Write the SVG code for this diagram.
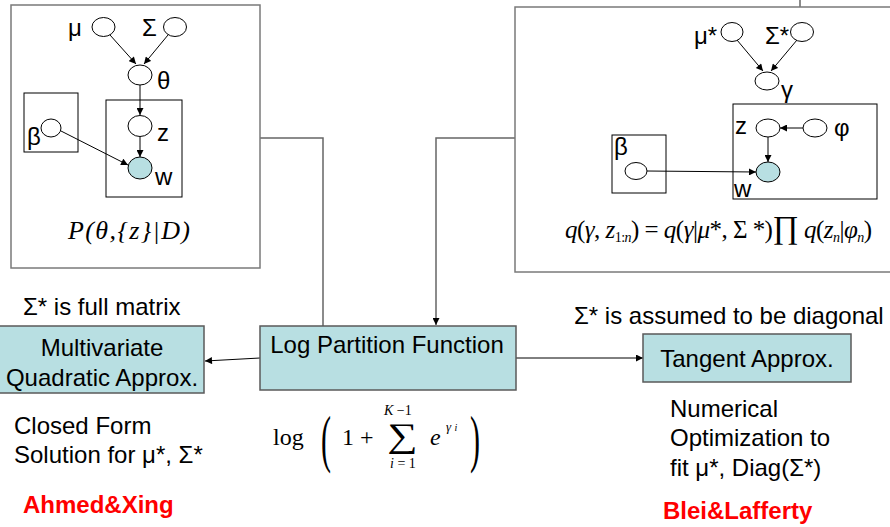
<svg xmlns="http://www.w3.org/2000/svg" width="890" height="527" viewBox="0 0 890 527">
  <defs>
    <marker id="arrow" viewBox="0 0 10 10" refX="10" refY="5" markerWidth="8" markerHeight="7" markerUnits="userSpaceOnUse" orient="auto">
      <path d="M0,0 L10,5 L0,10 z" fill="#000"/>
    </marker>
    <style>
      .frame { fill: #fff; stroke: #7a7a7a; stroke-width: 1.5; }
      .plate { fill: none; stroke: #000; stroke-width: 1; }
      .var { fill: #fff; stroke: #000; stroke-width: 1; }
      .obs { fill: #b8dfe2; stroke: #000; stroke-width: 1; }
      .box { fill: #b8dfe2; stroke: #5a5a5a; stroke-width: 1.5; }
      .edge { stroke: #000; stroke-width: 1; fill: none; marker-end: url(#arrow); }
      .wire { stroke: #666; stroke-width: 1.5; fill: none; }
      .lbl { font-family: "Liberation Sans", Arial, sans-serif; font-size: 24px; fill: #000; }
      .mid { text-anchor: middle; }
      .ref { font-family: "Liberation Sans", Arial, sans-serif; font-size: 24px; font-weight: bold; fill: #ff0000; }
      .math { font-family: "Liberation Serif", "Times New Roman", serif; fill: #000; }
      .it { font-style: italic; }
    </style>
  </defs>

  <!-- connectors between panels and boxes -->
  <g id="connectors">
    <polyline class="wire" points="260,138 323,138 323,326"/>
    <polyline class="wire" points="515,138 436,138 436,325" marker-end="url(#arrow)"/>
    <line class="wire" x1="800" y1="0" x2="800" y2="7"/>
    <line class="edge" x1="260" y1="358" x2="205" y2="361"/>
    <line class="edge" x1="516" y1="358" x2="643" y2="358"/>
  </g>

  <!-- generative model panel -->
  <g id="model-panel">
    <rect class="frame" x="11" y="5" width="249" height="263"/>
    <rect class="plate" x="24" y="93" width="54" height="59"/>
    <rect class="plate" x="106" y="100" width="76" height="97"/>
    <g id="mu">
      <ellipse class="var" cx="103.5" cy="27" rx="11.5" ry="9.5"/>
      <text class="lbl" x="68" y="36">μ</text>
    </g>
    <g id="sigma">
      <ellipse class="var" cx="175" cy="27" rx="11.5" ry="9.5"/>
      <text class="lbl" x="142" y="36">Σ</text>
    </g>
    <g id="theta">
      <ellipse class="var" cx="140" cy="75" rx="12" ry="10"/>
      <text class="lbl" x="157" y="89">θ</text>
    </g>
    <g id="z">
      <ellipse class="var" cx="140" cy="126" rx="12" ry="10.5"/>
      <text class="lbl" x="157" y="141">z</text>
    </g>
    <g id="w">
      <ellipse class="obs" cx="140" cy="168" rx="12" ry="11"/>
      <text class="lbl" x="155" y="185">w</text>
    </g>
    <g id="beta">
      <ellipse class="var" cx="51" cy="128" rx="10" ry="9"/>
      <text class="lbl" x="27" y="145">β</text>
    </g>
    <g id="model-edges">
      <line class="edge" x1="110" y1="35" x2="136" y2="64"/>
      <line class="edge" x1="168" y1="35" x2="144" y2="64"/>
      <line class="edge" x1="140" y1="85" x2="140" y2="115"/>
      <line class="edge" x1="140" y1="137" x2="140" y2="157"/>
      <line class="edge" x1="61" y1="131" x2="128" y2="165"/>
    </g>
    <text class="math it" x="68" y="239" font-size="26" textLength="122" lengthAdjust="spacing">P(θ,{z}|D)</text>
  </g>

  <!-- variational model panel -->
  <g id="variational-panel">
    <rect class="frame" x="515" y="7" width="380" height="265"/>
    <rect class="plate" x="612" y="135" width="54" height="58"/>
    <rect class="plate" x="733" y="104" width="144" height="95"/>
    <g id="mu-star">
      <ellipse class="var" cx="732" cy="32" rx="11" ry="9.5"/>
      <text class="lbl" x="694" y="44">μ*</text>
    </g>
    <g id="sigma-star">
      <ellipse class="var" cx="802" cy="32" rx="11.5" ry="9.5"/>
      <text class="lbl" x="765" y="44">Σ*</text>
    </g>
    <g id="gamma">
      <ellipse class="var" cx="767" cy="81" rx="12" ry="9"/>
      <text class="lbl" x="781" y="98">γ</text>
    </g>
    <g id="z-q">
      <ellipse class="var" cx="768" cy="128" rx="12" ry="9"/>
      <text class="lbl" x="735" y="134">z</text>
    </g>
    <g id="phi">
      <ellipse class="var" cx="815" cy="128" rx="12" ry="9"/>
      <text class="lbl" x="834" y="136">φ</text>
    </g>
    <g id="w-q">
      <ellipse class="obs" cx="768" cy="172" rx="12" ry="10"/>
      <text class="lbl" x="734" y="197">w</text>
    </g>
    <g id="beta-q">
      <ellipse class="var" cx="636" cy="171" rx="11" ry="8.5"/>
      <text class="lbl" x="614" y="155">β</text>
    </g>
    <g id="variational-edges">
      <line class="edge" x1="737" y1="40" x2="763" y2="71"/>
      <line class="edge" x1="797" y1="40" x2="771" y2="71"/>
      <line class="edge" x1="803" y1="128" x2="780" y2="128"/>
      <line class="edge" x1="768" y1="137" x2="768" y2="162"/>
      <line class="edge" x1="647" y1="171" x2="756" y2="172"/>
    </g>
    <text class="math" x="565" y="238" font-size="25" textLength="307" lengthAdjust="spacing"><tspan class="it">q</tspan>(<tspan class="it">γ</tspan>, <tspan class="it">z</tspan><tspan font-size="14" dy="4">1:<tspan class="it">n</tspan></tspan><tspan dy="-4">) = </tspan><tspan class="it">q</tspan>(<tspan class="it">γ</tspan>|<tspan class="it">μ</tspan>*, Σ *)<tspan font-size="32">∏</tspan> <tspan class="it">q</tspan>(<tspan class="it">z</tspan><tspan font-size="14" class="it" dy="4">n</tspan><tspan dy="-4">|</tspan><tspan class="it">φ</tspan><tspan font-size="14" class="it" dy="4">n</tspan><tspan dy="-4">)</tspan></text>
  </g>

  <!-- approximation boxes -->
  <g id="log-partition">
    <rect class="box" x="260" y="326" width="256" height="64"/>
    <text class="lbl mid" x="387" y="353">Log Partition Function</text>
  </g>
  <g id="quadratic">
    <rect class="box" x="-1" y="326" width="205" height="67"/>
    <text class="lbl mid" x="102" y="356">Multivariate</text>
    <text class="lbl mid" x="102" y="386">Quadratic Approx.</text>
  </g>
  <g id="tangent">
    <rect class="box" x="643" y="334" width="208" height="48"/>
    <text class="lbl mid" x="747" y="367">Tangent Approx.</text>
  </g>

  <!-- log partition expression -->
  <g id="log-formula" class="math">
    <text x="273" y="445" font-size="24">log</text>
    <text transform="translate(321,460) scale(0.5,1.05)" font-size="60" x="0" y="0">(</text>
    <text x="342" y="445" font-size="24">1</text>
    <text x="360" y="445" font-size="24">+</text>
    <text transform="translate(387,447) scale(1.25,1)" font-size="34" x="0" y="0">∑</text>
    <text x="384" y="415" font-size="14"><tspan class="it">K</tspan>   −1</text>
    <text x="390" y="468" font-size="14"><tspan class="it">i</tspan> = 1</text>
    <text x="430" y="445" font-size="24" class="it">e</text>
    <text x="446" y="431" font-size="13" class="it">γ <tspan font-size="10">i</tspan></text>
    <text transform="translate(470,460) scale(0.5,1.05)" font-size="60" x="0" y="0">)</text>
  </g>

  <!-- annotations -->
  <g id="notes">
    <text class="lbl" x="23" y="315">Σ* is full matrix</text>
    <text class="lbl" x="574" y="324">Σ* is assumed to be diagonal</text>
    <text class="lbl" x="14" y="434">Closed Form</text>
    <text class="lbl" x="14" y="463">Solution for μ*, Σ*</text>
    <text class="ref" x="23" y="513">Ahmed&amp;Xing</text>
    <text class="lbl" x="670" y="417">Numerical</text>
    <text class="lbl" x="670" y="446">Optimization to</text>
    <text class="lbl" x="670" y="476">fit μ*, Diag(Σ*)</text>
    <text class="ref" x="663" y="519">Blei&amp;Lafferty</text>
  </g>
</svg>
